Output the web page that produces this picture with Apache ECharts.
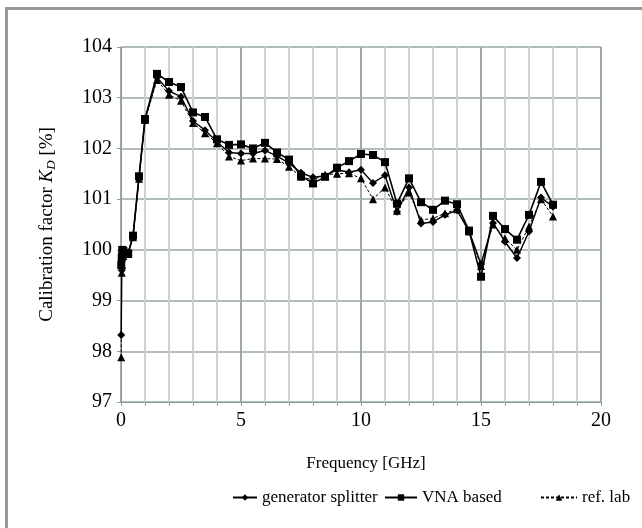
<!DOCTYPE html>
<html>
<head>
<meta charset="utf-8">
<script src="https://cdn.jsdelivr.net/npm/echarts@6/dist/echarts.min.js"></script>
<style>
  html, body { margin: 0; padding: 0; background: #fff; }
  #frame { position: absolute; left: 5px; top: 7px; width: 660px; height: 560px; border: 3px solid #999; box-sizing: border-box; }
  #chart { position: absolute; left: 0; top: 0; width: 642px; height: 528px; }
</style>
</head>
<body>
<div id="frame"></div>
<div id="chart"></div>
<script>
const freq = [0.01, 0.03, 0.05, 0.1, 0.3, 0.5, 0.75, 1, 1.5, 2, 2.5, 3, 3.5, 4, 4.5, 5, 5.5, 6, 6.5, 7, 7.5, 8, 8.5, 9, 9.5, 10, 10.5, 11, 11.5, 12, 12.5, 13, 13.5, 14, 14.5, 15, 15.5, 16, 16.5, 17, 17.5, 18];
const vnaBased = [99.70, 99.85, 100.00, 99.98, 99.93, 100.28, 101.45, 102.58, 103.47, 103.31, 103.21, 102.71, 102.62, 102.18, 102.07, 102.08, 102.00, 102.11, 101.92, 101.78, 101.46, 101.31, 101.44, 101.62, 101.75, 101.89, 101.87, 101.73, 100.91, 101.41, 100.94, 100.79, 100.97, 100.90, 100.38, 99.47, 100.67, 100.41, 100.20, 100.69, 101.34, 100.89];
const genSplitter = [98.32, 99.60, 99.80, 99.90, 99.95, 100.26, 101.42, 102.57, 103.40, 103.13, 103.02, 102.54, 102.36, 102.13, 101.92, 101.90, 101.90, 101.96, 101.85, 101.71, 101.52, 101.43, 101.46, 101.58, 101.53, 101.58, 101.32, 101.47, 100.75, 101.23, 100.52, 100.55, 100.69, 100.78, 100.37, 99.72, 100.53, 100.16, 99.84, 100.36, 101.03, 100.85];
const refLab = [97.88, 99.55, 99.70, 99.88, 99.92, 100.25, 101.40, 102.56, 103.35, 103.06, 102.94, 102.50, 102.30, 102.10, 101.84, 101.76, 101.80, 101.80, 101.79, 101.64, 101.44, 101.38, 101.48, 101.50, 101.51, 101.41, 101.00, 101.23, 100.77, 101.13, 100.59, 100.62, 100.72, 100.80, 100.36, 99.68, 100.50, 100.23, 100.00, 100.46, 101.00, 100.66];
const seriesNames = ['generator splitter', 'VNA based', 'ref. lab'];
const xTicks = [0, 5, 10, 15, 20];
const yTicks = [97, 98, 99, 100, 101, 102, 103, 104];

const pair = (ys) => freq.map((f, i) => [f, ys[i]]);
const font = '"Liberation Serif", "DejaVu Serif", serif';

const chart = echarts.init(document.getElementById('chart'), null, { renderer: 'canvas' });
chart.setOption({
  animation: false,
  backgroundColor: 'transparent',
  textStyle: { fontFamily: font, color: '#000' },
  grid: { left: 121, top: 47, width: 480, height: 355, containLabel: false },
  xAxis: [
    {
      type: 'value', min: xTicks[0], max: xTicks[xTicks.length - 1], interval: 1,
      name: 'Frequency [GHz]', nameLocation: 'middle', nameGap: 53,
      nameTextStyle: { fontFamily: font, fontSize: 17, color: '#000', padding: [0, 0, 0, 10] },
      axisLine: { show: true, onZero: false, lineStyle: { color: '#8e9c9c', width: 1 } },
      axisTick: { show: true, length: 4, inside: false, lineStyle: { color: '#8e9c9c' } },
      axisLabel: { fontFamily: font, fontSize: 20, color: '#000', margin: 9,
        formatter: v => (xTicks.indexOf(v) >= 0 ? String(v) : '') },
      splitLine: { show: true, lineStyle: { color: '#c9d3d3', width: 2 } }
    },
    {
      type: 'value', min: xTicks[0], max: xTicks[xTicks.length - 1], interval: 5,
      position: 'bottom', show: true,
      axisLine: { show: false }, axisTick: { show: false }, axisLabel: { show: false },
      splitLine: { show: true, lineStyle: { color: '#8e9c9c', width: 1.5 } }
    }
  ],
  yAxis: {
    type: 'value', min: yTicks[0], max: yTicks[yTicks.length - 1], interval: 1,
    name: 'Calibration factor {i|K}{sub|D} [%]', nameLocation: 'middle', nameGap: 63,
    nameTextStyle: {
      fontFamily: font, fontSize: 19, color: '#000',
      rich: {
        i: { fontFamily: font, fontSize: 19, fontStyle: 'italic', color: '#000' },
        sub: { fontFamily: font, fontSize: 13, fontStyle: 'italic', color: '#000', verticalAlign: 'bottom', padding: [9, 0, 0, 0] }
      }
    },
    axisLine: { show: true, lineStyle: { color: '#8e9c9c', width: 1 } },
    axisTick: { show: true, length: 4, lineStyle: { color: '#8e9c9c' } },
    axisLabel: { fontFamily: font, fontSize: 20, color: '#000', margin: 9 },
    splitLine: { show: true, lineStyle: { color: '#98a6a6', width: 1.5 } }
  },
  legend: [
    { data: [seriesNames[0]], left: 232, top: 489, padding: 0, itemWidth: 24, itemHeight: 8,
      textStyle: { fontFamily: font, fontSize: 17, color: '#000' } },
    { data: [seriesNames[1]], left: 384, top: 489, padding: 0, itemWidth: 32, itemHeight: 8,
      textStyle: { fontFamily: font, fontSize: 17, color: '#000' } },
    { data: [seriesNames[2]], left: 540, top: 489, padding: 0, itemWidth: 36, itemHeight: 8,
      textStyle: { fontFamily: font, fontSize: 17, color: '#000' } }
  ],
  series: [
    {
      name: seriesNames[0], type: 'line', data: pair(genSplitter),
      symbol: 'diamond', symbolSize: 8, showAllSymbol: true,
      itemStyle: { color: '#000' }, lineStyle: { color: '#000', width: 1.4 }, z: 3
    },
    {
      name: seriesNames[1], type: 'line', data: pair(vnaBased),
      symbol: 'rect', symbolSize: 8, showAllSymbol: true,
      itemStyle: { color: '#000' }, lineStyle: { color: '#000', width: 1.6 }, z: 4
    },
    {
      name: seriesNames[2], type: 'line', data: pair(refLab),
      symbol: 'triangle', symbolSize: 8, showAllSymbol: true,
      itemStyle: { color: '#000' }, lineStyle: { color: '#000', width: 1, type: [3, 2] }, z: 2
    }
  ]
});
</script>
</body>
</html>
